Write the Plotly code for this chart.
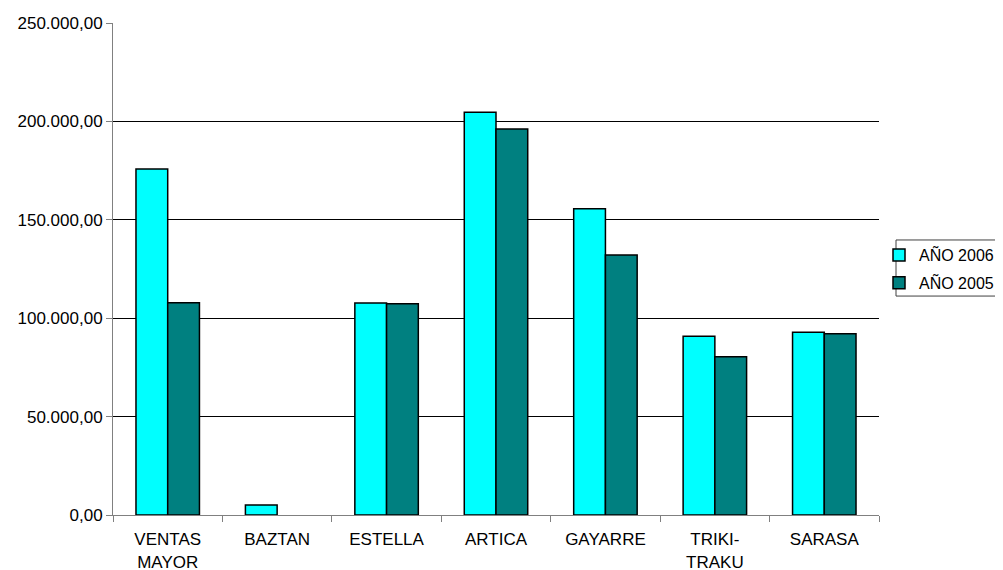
import plotly.graph_objects as go

categories = ["VENTAS<br>MAYOR", "BAZTAN", "ESTELLA", "ARTICA", "GAYARRE", "TRIKI-<br>TRAKU", "SARASA"]
anio_2006 = [175800, 5100, 107700, 204700, 155600, 90800, 92800]
anio_2005 = [107900, None, 107300, 196100, 132100, 80400, 92100]
y_ticks = [0, 50000, 100000, 150000, 200000, 250000]

FONT = "Liberation Sans, Arial, sans-serif"

fig = go.Figure()
fig.add_trace(go.Bar(name="AÑO 2006", x=categories, y=anio_2006, legendgroup="a",
                     marker=dict(color="#00FFFF", line=dict(color="black", width=1.5))))
fig.add_trace(go.Bar(name="AÑO 2005", x=categories, y=anio_2005, legendgroup="b",
                     marker=dict(color="#008080", line=dict(color="black", width=1.5))))

fig.update_layout(
    width=1003, height=570,
    margin=dict(l=105, r=132, t=15, b=63, autoexpand=False),
    paper_bgcolor="white", plot_bgcolor="white",
    separators=",.",
    barmode="group", bargap=0.42, bargroupgap=0,
    font=dict(family=FONT, size=17, color="black"),
    showlegend=True,
    legend=dict(x=1.0, xanchor="left", y=0.563, yanchor="top",
                borderwidth=0, bgcolor="rgba(0,0,0,0)",
                font=dict(size=16), itemwidth=30, tracegroupgap=4),
    shapes=[dict(type="rect", xref="paper", yref="paper",
                 x0=1.0222, x1=1.25, y0=0.445, y1=0.559,
                 line=dict(color="#404040", width=1), fillcolor="rgba(0,0,0,0)",
                 layer="below")],
)
fig.update_xaxes(showline=True, linecolor="#808080", linewidth=1,
                 ticks="outside", tickson="boundaries", ticklen=6, tickcolor="#808080",
                 ticklabelstandoff=9,
                 showgrid=False, tickfont=dict(size=17))
fig.update_yaxes(range=[0, 250000], tickvals=y_ticks, tickformat=",.2f",
                 showline=True, linecolor="#808080", linewidth=1,
                 ticks="outside", ticklen=6, tickcolor="#808080",
                 showgrid=True, gridcolor="black", gridwidth=1,
                 zeroline=False, tickfont=dict(size=17))

fig.write_html("out.html")
